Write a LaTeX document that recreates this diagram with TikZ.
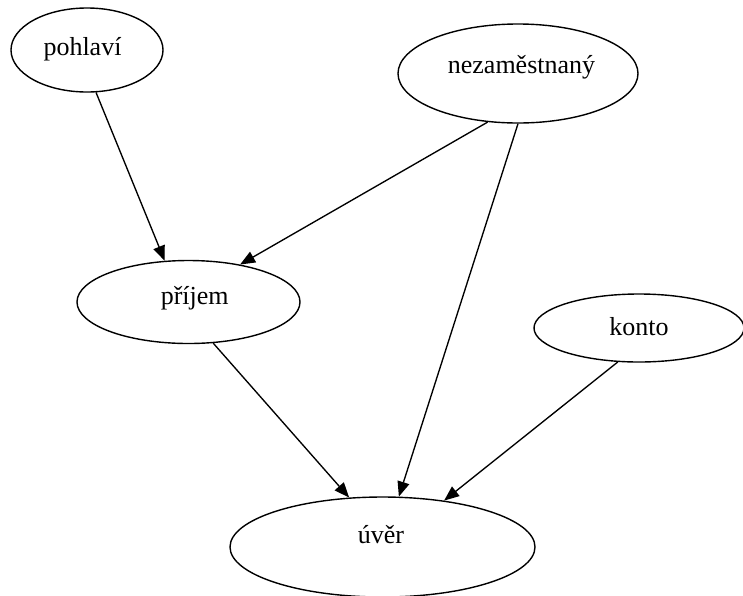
\documentclass[tikz,border=0pt]{standalone}
\usepackage{fontspec}
\setmainfont{Liberation Serif}
\usetikzlibrary{shapes.geometric,arrows.meta}

\tikzset{
  var/.style={draw, ellipse, line width=1.4pt, inner sep=0pt},
  lbl/.style={anchor=base, inner sep=0pt, font=\fontsize{26}{30}\selectfont},
  edge/.style={line width=1.35pt, -{Triangle[length=15pt,width=12pt]}}
}

\begin{document}
\begin{tikzpicture}[x=1pt, y=-1pt]
  \clip (0,0) rectangle (743,595);

  % variables
  \node[var, minimum width=152pt, minimum height=84pt] (pohl) at (87,50) {};
  \node[lbl] (pohl-t) at (82.5,55) {pohlaví};

  \node[var, minimum width=240pt, minimum height=99pt] (neza) at (518,73.5) {};
  \node[lbl] (neza-t) at (521.5,73) {nezaměstnaný};

  \node[var, minimum width=223pt, minimum height=83pt] (prij) at (188.5,302) {};
  \node[lbl] (prij-t) at (194.7,304) {příjem};

  \node[var, minimum width=210pt, minimum height=68pt] (kont) at (639,328) {};
  \node[lbl] (kont-t) at (639,335) {konto};

  \node[var, minimum width=305pt, minimum height=100pt] (uver) at (382.5,547) {};
  \node[lbl] (uver-t) at (381,543) {úvěr};

  % dependencies
  \draw[edge] (pohl.-78) -- (prij.120);
  \draw[edge] (neza.-122) -- (prij.36);
  \draw[edge] (neza.-90) -- (uver.72);
  \draw[edge] (prij.-59) -- (uver.124);
  \draw[edge] (kont.-122) -- (uver.37);
\end{tikzpicture}
\end{document}
